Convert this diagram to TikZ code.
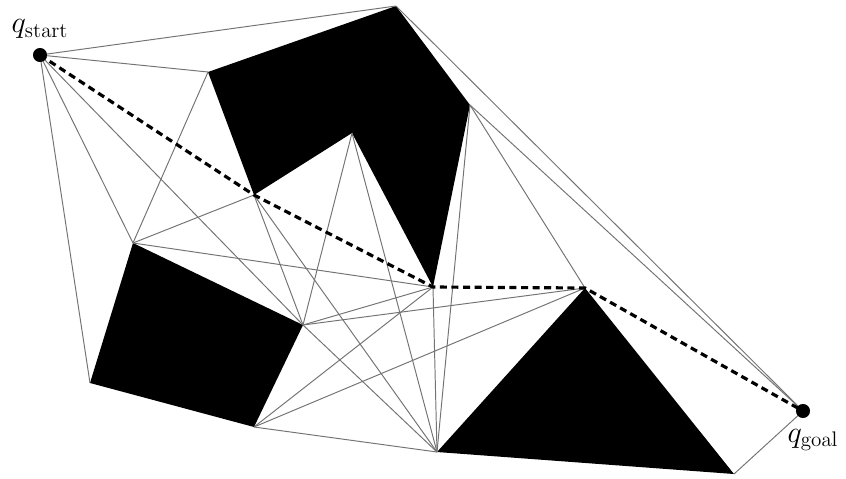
\documentclass[tikz,border=0pt]{standalone}
\usepackage{tikz}
\usetikzlibrary{positioning}

\tikzset{
  vis/.style={draw=black!55, line width=0.55pt},
  route/.style={draw=black, line width=1.8pt, dash pattern=on 4pt off 2.6pt},
  obst/.style={fill=black},
  endpt/.style={fill=black},
  lbl/.style={font=\fontsize{17}{20}\selectfont, inner sep=0pt}
}

\begin{document}
\begin{tikzpicture}[x=0.02cm, y=-0.02cm]
  \useasboundingbox (0,0) rectangle (846,478);
  % start and goal
  \coordinate (qs) at (40,55);
  \coordinate (qg) at (803,411);
  % upper obstacle
  \coordinate (a1) at (208,72);
  \coordinate (a2) at (396,6);
  \coordinate (a3) at (470,105);
  \coordinate (a4) at (433,287);
  \coordinate (a5) at (352,133);
  \coordinate (a6) at (254,195);
  % left obstacle
  \coordinate (b1) at (133,243);
  \coordinate (b2) at (303,325);
  \coordinate (b3) at (254,427);
  \coordinate (b4) at (90,383);
  % triangle
  \coordinate (c1) at (585,288);
  \coordinate (c2) at (437,452);
  \coordinate (c3) at (734,474);

  % obstacles
  \fill[obst] (a1) -- (a2) -- (a3) -- (a4) -- (a5) -- (a6) -- cycle;
  \fill[obst] (b1) -- (b2) -- (b3) -- (b4) -- cycle;
  \fill[obst] (c1) -- (c3) -- (c2) -- cycle;

  % visibility edges
  \foreach \u/\v in {qs/a2, qs/a1, qs/b1, qs/b4, qs/b2,
                     a1/b1, a6/b1, a6/b2, a6/c2, a5/b2, a5/c2,
                     a4/b1, a4/b2, a4/b3, a4/c2,
                     a3/c1, a3/c2, a3/qg, a2/qg,
                     b2/c1, b2/c2, b3/c1, b3/c2, c3/qg}
    \draw[vis] (\u) -- (\v);

  % shortest path
  \draw[route] (qs) -- (a6) -- (a4) -- (c1) -- (qg);

  % end points
  \fill[endpt] (qs) circle (4pt);
  \fill[endpt] (qg) circle (4pt);
  \node[lbl] (lstart) at (40,29) {$q_{\mathrm{start}}$};
  \node[lbl] (lgoal) at (813,440) {$q_{\mathrm{goal}}$};
\end{tikzpicture}
\end{document}
